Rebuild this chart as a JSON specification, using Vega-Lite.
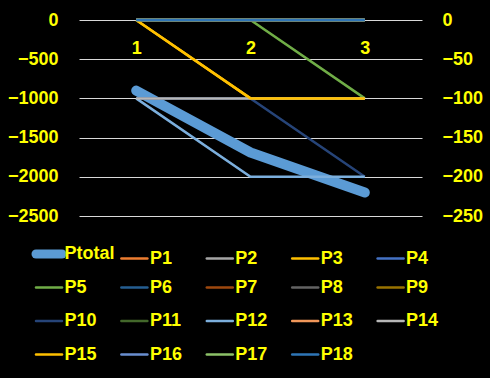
{
  "$schema": "https://vega.github.io/schema/vega-lite/v6.json",
  "width": 343,
  "height": 196,
  "autosize": {"type": "none"},
  "padding": {"left": 79, "top": 20, "right": 68, "bottom": 162},
  "background": "black",
  "config": {"view": {"stroke": null}, "font": "Liberation Sans"},
  "datasets": {
    "total": [
      {"x": "1", "series": "Ptotal", "value": -900},
      {"x": "2", "series": "Ptotal", "value": -1690},
      {"x": "3", "series": "Ptotal", "value": -2200}
    ],
    "parts": [
      {"x": "1", "series": "P1", "value": 0}, {"x": "2", "series": "P1", "value": 0}, {"x": "3", "series": "P1", "value": 0},
      {"x": "1", "series": "P2", "value": 0}, {"x": "2", "series": "P2", "value": 0}, {"x": "3", "series": "P2", "value": 0},
      {"x": "1", "series": "P3", "value": 0}, {"x": "2", "series": "P3", "value": -100}, {"x": "3", "series": "P3", "value": -100},
      {"x": "1", "series": "P4", "value": 0}, {"x": "2", "series": "P4", "value": 0}, {"x": "3", "series": "P4", "value": 0},
      {"x": "1", "series": "P5", "value": 0}, {"x": "2", "series": "P5", "value": 0}, {"x": "3", "series": "P5", "value": -100},
      {"x": "1", "series": "P6", "value": 0}, {"x": "2", "series": "P6", "value": 0}, {"x": "3", "series": "P6", "value": 0},
      {"x": "1", "series": "P7", "value": 0}, {"x": "2", "series": "P7", "value": 0}, {"x": "3", "series": "P7", "value": 0},
      {"x": "1", "series": "P8", "value": 0}, {"x": "2", "series": "P8", "value": 0}, {"x": "3", "series": "P8", "value": 0},
      {"x": "1", "series": "P9", "value": 0}, {"x": "2", "series": "P9", "value": 0}, {"x": "3", "series": "P9", "value": 0},
      {"x": "1", "series": "P10", "value": -100}, {"x": "2", "series": "P10", "value": -100}, {"x": "3", "series": "P10", "value": -200},
      {"x": "1", "series": "P11", "value": 0}, {"x": "2", "series": "P11", "value": 0}, {"x": "3", "series": "P11", "value": 0},
      {"x": "1", "series": "P12", "value": -100}, {"x": "2", "series": "P12", "value": -200}, {"x": "3", "series": "P12", "value": -200},
      {"x": "1", "series": "P13", "value": 0}, {"x": "2", "series": "P13", "value": 0}, {"x": "3", "series": "P13", "value": 0},
      {"x": "1", "series": "P14", "value": -100}, {"x": "2", "series": "P14", "value": -100}, {"x": "3", "series": "P14", "value": -100},
      {"x": "1", "series": "P15", "value": 0}, {"x": "2", "series": "P15", "value": -100}, {"x": "3", "series": "P15", "value": -100},
      {"x": "1", "series": "P16", "value": 0}, {"x": "2", "series": "P16", "value": 0}, {"x": "3", "series": "P16", "value": 0},
      {"x": "1", "series": "P17", "value": 0}, {"x": "2", "series": "P17", "value": 0}, {"x": "3", "series": "P17", "value": 0},
      {"x": "1", "series": "P18", "value": 0}, {"x": "2", "series": "P18", "value": 0}, {"x": "3", "series": "P18", "value": 0}
    ]
  },
  "encoding": {
    "x": {
      "field": "x", "type": "ordinal",
      "scale": {"type": "point", "padding": 0.5},
      "axis": {"orient": "bottom", "offset": -196, "labelAngle": 0, "domain": false, "ticks": false, "tickSize": 0, "labelPadding": 19, "grid": false, "title": null, "labelColor": "#FFFF00", "labelFontSize": 18, "labelFontWeight": "bold"}
    },
    "color": {
      "field": "series", "type": "nominal",
      "scale": {
        "domain": ["Ptotal","P1","P2","P3","P4","P5","P6","P7","P8","P9","P10","P11","P12","P13","P14","P15","P16","P17","P18"],
        "range": ["#5B9BD5","#ED7D31","#A5A5A5","#FFC000","#4472C4","#70AD47","#255E91","#9E480E","#636363","#997300","#264478","#43682B","#7CAFDD","#F1975A","#B7B7B7","#FFC000","#698ED0","#8CC168","#2E75B6"]
      },
      "legend": {"orient": "none", "legendX": -39, "legendY": 225, "columns": 5, "direction": "horizontal", "symbolType": "stroke", "symbolSize": 676, "symbolStrokeWidth": 2.5, "labelColor": "#FFFF00", "labelFontSize": 18, "labelFontWeight": "bold", "title": null, "gridAlign": "all", "columnPadding": 1.4, "rowPadding": 6.5, "labelOffset": 6.5, "padding": 0, "labelLimit": 0,
        "encode": {"symbols": {"update": {"strokeCap": {"value": "round"}, "strokeWidth": {"signal": "datum.value === 'Ptotal' ? 9 : 2.5"}}}}}
    }
  },
  "layer": [
    {
      "data": {"name": "total"},
      "mark": {"type": "line", "strokeWidth": 10, "strokeCap": "round", "strokeJoin": "round"},
      "encoding": {
        "y": {
          "field": "value", "type": "quantitative",
          "scale": {"domain": [-2500, 0], "nice": false, "zero": false},
          "axis": {"orient": "left", "values": [0, -500, -1000, -1500, -2000, -2500], "format": "d", "grid": true, "gridColor": "#D9D9D9", "gridWidth": 1, "domain": false, "ticks": false, "labelPadding": 21, "labelColor": "#FFFF00", "labelFontSize": 18, "labelFontWeight": "bold", "title": null}
        }
      }
    },
    {
      "data": {"name": "parts"},
      "mark": {"type": "line", "strokeWidth": 2.5, "strokeCap": "butt"},
      "encoding": {
        "y": {
          "field": "value", "type": "quantitative",
          "scale": {"domain": [-250, 0], "nice": false, "zero": false},
          "axis": {"orient": "right", "values": [0, -50, -100, -150, -200, -250], "format": "d", "grid": false, "domain": false, "ticks": false, "labelPadding": 20, "labelColor": "#FFFF00", "labelFontSize": 18, "labelFontWeight": "bold", "title": null}
        }
      }
    }
  ],
  "resolve": {"scale": {"y": "independent"}}
}
